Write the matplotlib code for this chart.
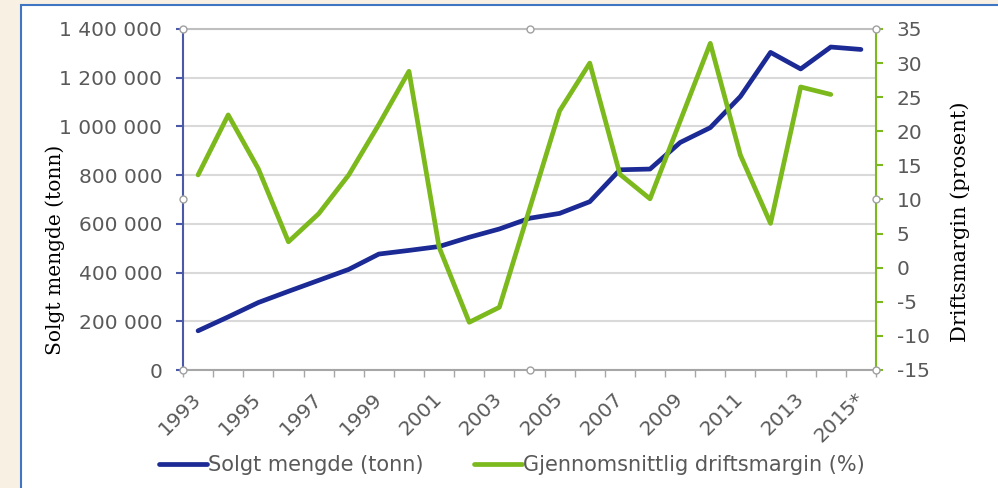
import numpy as np
import matplotlib.pyplot as plt
from matplotlib.patches import Rectangle
from matplotlib.ticker import FuncFormatter, MultipleLocator

plt.rcParams['axes.unicode_minus'] = False

# data
years = ['1993', '1994', '1995', '1996', '1997', '1998', '1999', '2000', '2001', '2002',
         '2003', '2004', '2005', '2006', '2007', '2008', '2009', '2010', '2011', '2012',
         '2013', '2014', '2015*']
solgt = [161000, 218000, 277000, 323000, 368000, 413000, 476000, 491000, 507000, 545000,
         579000, 623000, 643000, 691000, 822000, 825000, 934000, 995000, 1123000, 1304000,
         1236000, 1326000, 1316000]
margin = [13.6, 22.4, 14.5, 3.8, 7.9, 13.6, 21.0, 28.8, 3.0, -8.0,
          -5.8, 8.6, 23.0, 30.0, 13.7, 10.1, 21.5, 32.9, 16.5, 6.5,
          26.5, 25.4]

blue = '#1b2a94'
green = '#7cb91c'
tick_grey = '#595959'
fs = 14.5

fig = plt.figure(figsize=(9.98, 4.88), dpi=100)
fig.patch.set_facecolor('#f8f0e3')
# white chart panel with blue border
panel = Rectangle((21 / 998, -0.01), 1.0, 1 - 5 / 488 + 0.01, transform=fig.transFigure,
                  facecolor='white', edgecolor='#3f75c2', lw=1.5, zorder=-5)
fig.add_artist(panel)

ax = fig.add_axes([183 / 998, 1 - 370 / 488, (876 - 183) / 998, (370 - 29) / 488])
ax.set_facecolor('none')
x = np.arange(len(years))

l1, = ax.plot(x, solgt, color=blue, lw=3.4, solid_capstyle='round', label='Solgt mengde (tonn)', zorder=3)
ax.set_ylim(0, 1400000)
ax.set_xlim(-0.5, len(years) - 0.5)
ax.yaxis.set_major_locator(MultipleLocator(200000))
ax.yaxis.set_major_formatter(FuncFormatter(lambda v, p: f'{v:,.0f}'.replace(',', ' ')))
ax.grid(axis='y', color='#d9d9d9', lw=1.5, zorder=0)
ax.set_axisbelow(True)

ax.set_xticks(x[::2])
ax.set_xticklabels(years[::2], rotation=45, ha='right', va='center', rotation_mode='anchor')
ax.set_xticks(np.arange(-0.5, len(years), 1), minor=True)
ax.tick_params(axis='x', which='major', length=0, pad=18.5, labelsize=fs, labelcolor=tick_grey)
ax.tick_params(axis='x', which='minor', length=5, color='#a6a6a6', width=1)
ax.tick_params(axis='y', length=5, color='#4a5aa8', width=1.5, labelsize=fs, labelcolor=tick_grey, pad=10)

for s in ['top', 'right']:
    ax.spines[s].set_visible(False)
ax.spines['left'].set_color('#4a5aa8')
ax.spines['left'].set_linewidth(1.5)
ax.spines['bottom'].set_color('#a6a6a6')
ax.spines['bottom'].set_linewidth(1.5)

ax.set_ylabel('Solgt mengde (tonn)', family='DejaVu Serif', fontsize=14.5, color='black',
              ha='center', va='center')
ax.yaxis.set_label_coords((55 - 183) / 693, (370 - 250) / 341)

ax2 = ax.twinx()
l2, = ax2.plot(x[:len(margin)], margin, color=green, lw=3.4, solid_capstyle='round',
               label='Gjennomsnittlig driftsmargin (%)', zorder=4)
ax2.set_ylim(-15, 35)
ax2.yaxis.set_major_locator(MultipleLocator(5))
ax2.tick_params(axis='y', length=5, color=green, width=1.5, labelsize=fs, labelcolor=tick_grey, pad=10)
for s in ['left', 'bottom']:
    ax2.spines[s].set_visible(False)
ax2.spines['right'].set_color(green)
ax2.spines['right'].set_linewidth(1.5)
ax2.spines['top'].set_color('#bfbfbf')
ax2.spines['top'].set_linewidth(1.5)
ax2.set_ylabel('Driftsmargin (prosent)', family='DejaVu Serif', fontsize=15, color='black',
               ha='center', va='center')
ax2.yaxis.set_label_coords((960 - 183) / 693, (370 - 222) / 341)

# selection handles on the plot area
hx = [0, 0.5, 1, 0, 1, 0, 0.5, 1]
hy = [1, 1, 1, 0.5, 0.5, 0, 0, 0]
ax2.plot(hx, hy, 'o', transform=ax2.transAxes, ms=5, mfc='white', mec='#a0a0a0', mew=1,
         clip_on=False, zorder=10)

fig.legend(handles=[l1, l2], loc='center', bbox_to_anchor=(0.513, 0.047), ncol=2, frameon=False,
           fontsize=15, labelcolor=tick_grey, handlelength=2.3, handletextpad=0.05, columnspacing=2.4)

fig.savefig('out.png', dpi=100, facecolor=fig.get_facecolor())
